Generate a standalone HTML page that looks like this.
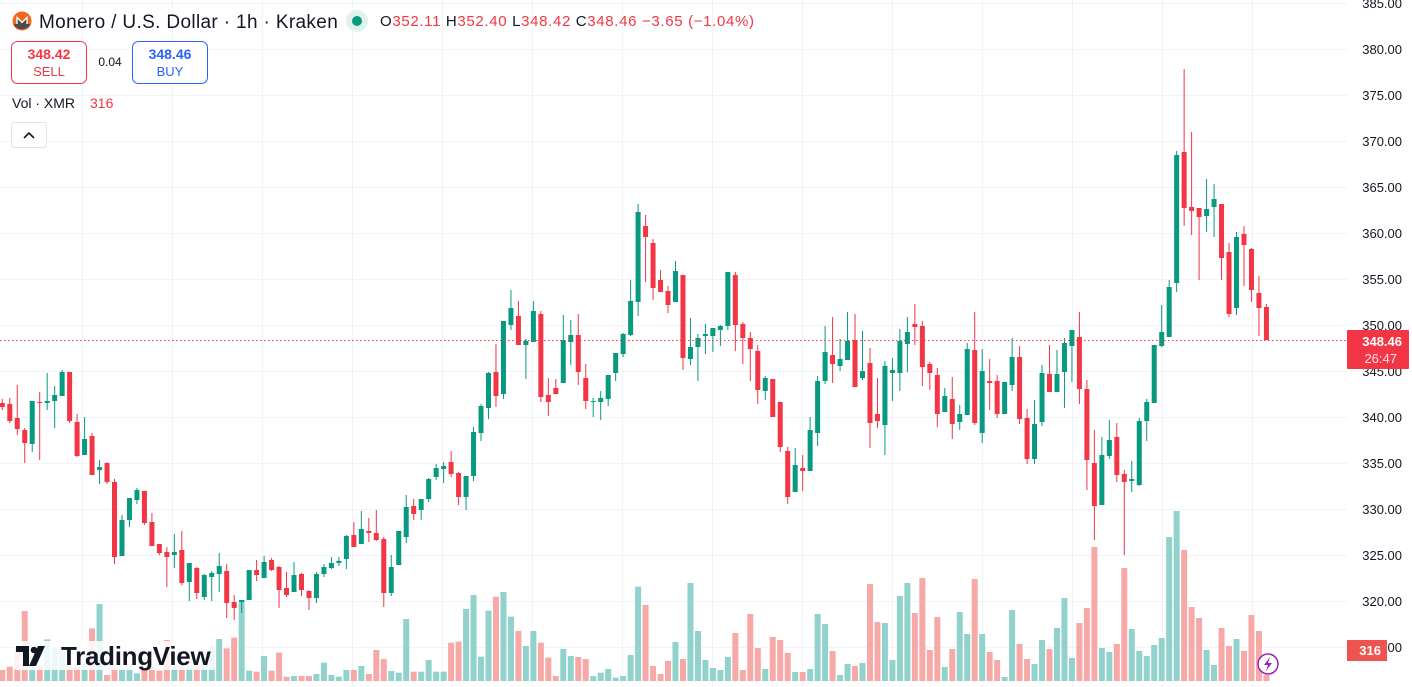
<!DOCTYPE html>
<html><head><meta charset="utf-8"><style>
html,body{margin:0;padding:0;background:#fff;width:1412px;height:687px;overflow:hidden}
svg{display:block;font-family:"Liberation Sans",Arial,sans-serif}
</style></head><body>
<svg id="c" width="1412" height="687" xmlns="http://www.w3.org/2000/svg">
<g id="grid" stroke="#f0f3fa" stroke-width="1"></g>
<g id="vol"></g>
<g id="cand"></g>
<line x1="0" y1="340.5" x2="1347" y2="340.5" stroke="#f23645" stroke-width="1" stroke-dasharray="1.5,2.5"/>
<g font-size="13" fill="#131722" text-anchor="end" id="axis">
<text x="1402" y="8">385.00</text><text x="1402" y="54">380.00</text><text x="1402" y="100">375.00</text><text x="1402" y="146">370.00</text><text x="1402" y="192">365.00</text><text x="1402" y="238">360.00</text><text x="1402" y="284">355.00</text><text x="1402" y="330">350.00</text><text x="1402" y="376">345.00</text><text x="1402" y="422">340.00</text><text x="1402" y="468">335.00</text><text x="1402" y="514">330.00</text><text x="1402" y="560">325.00</text><text x="1402" y="606">320.00</text><text x="1402" y="652">315.00</text>
</g>
<rect x="1347" y="330" width="62" height="39" fill="#f23645" rx="1"/>
<text x="1402" y="346" font-size="13" font-weight="bold" fill="#fff" text-anchor="end">348.46</text>
<text x="1397" y="363" font-size="13" fill="#fde" text-anchor="end">26:47</text>
<rect x="1347" y="640" width="40" height="21" fill="#ef5350"/>
<text x="1381" y="655" font-size="13" font-weight="bold" fill="#fff" text-anchor="end">316</text>
<!-- header -->
<circle cx="22" cy="21" r="9.5" fill="#f26822"/>
<path d="M13.5 24 L17 24 L17 17.5 L22 22.5 L27 17.5 L27 24 L30.5 24 A9.5 9.5 0 0 1 13.5 24Z" fill="#4c4c4c"/>
<path d="M17 24 L17 17.5 L22 22.5 L27 17.5 L27 24" fill="none" stroke="#fff" stroke-width="1.3"/>
<text x="39" y="28" font-size="19" fill="#131722" letter-spacing="0.35">Monero / U.S. Dollar · 1h · Kraken</text>
<circle cx="357" cy="21" r="11" fill="#dff2ee"/>
<circle cx="357" cy="21" r="5" fill="#089981"/>
<text x="380" y="26" font-size="15" fill="#131722" textLength="374">O<tspan fill="#f23645">352.11</tspan> H<tspan fill="#f23645">352.40</tspan> L<tspan fill="#f23645">348.42</tspan> C<tspan fill="#f23645">348.46 −3.65 (−1.04%)</tspan></text>
<rect x="11.5" y="41.5" width="75" height="42" rx="6" fill="#fff" stroke="#f23645"/>
<text x="49" y="59" font-size="14" font-weight="bold" fill="#f23645" text-anchor="middle">348.42</text>
<text x="49" y="76" font-size="13" fill="#f23645" text-anchor="middle">SELL</text>
<text x="110" y="66" font-size="12" fill="#131722" text-anchor="middle">0.04</text>
<rect x="132.5" y="41.5" width="75" height="42" rx="6" fill="#fff" stroke="#2962ff"/>
<text x="170" y="59" font-size="14" font-weight="bold" fill="#2962ff" text-anchor="middle">348.46</text>
<text x="170" y="76" font-size="13" fill="#2962ff" text-anchor="middle">BUY</text>
<text x="12" y="108" font-size="14" fill="#131722">Vol · XMR</text>
<text x="90" y="108" font-size="14" fill="#f23645">316</text>
<rect x="11.5" y="122.5" width="35" height="25" rx="3" fill="#fff" stroke="#e0e3eb"/>
<path d="M24 138 L29 133 L34 138" fill="none" stroke="#131722" stroke-width="1.6"/>
<!-- logo -->
<g>
<rect x="13" y="641" width="203" height="29" fill="#fff" opacity="0.85" rx="4"/>
<path d="M16 646 H29 V666 H23 V652 H16Z" fill="#131722"/>
<circle cx="34" cy="650" r="3.3" fill="#131722"/>
<path d="M38 646 H45 L36 666 H29Z" fill="#131722"/>
<text x="61" y="665" font-size="26" font-weight="bold" fill="#131722" letter-spacing="-0.3">TradingView</text>
</g>
<circle cx="1268" cy="664" r="10" fill="#fff" stroke="#9c27b0" stroke-width="1.5"/>
<path d="M1270 657 L1264 665 L1268 665 L1266 671 L1272 663 L1268 663Z" fill="#9c27b0"/>
</svg>
<script>
var NS="http://www.w3.org/2000/svg";
function el(p,t,a){var e=document.createElementNS(NS,t);for(var k in a)e.setAttribute(k,a[k]);p.appendChild(e);return e;}
var g=document.getElementById("grid");
for(var k=0;k<15;k++){var y=3+k*46+0.5;el(g,"line",{x1:0,y1:y,x2:1347,y2:y});}
for(var x=82;x<1300;x+=90){el(g,"line",{x1:x+0.5,y1:0,x2:x+0.5,y2:687});}
var D=[[403,407,399,410,0],[404,421,398,423,0],[418,429,385,435,0],[430,443,428,463,0],[401,444,401,452,1],[402,403,392,460,0],[401,403,373,410,1],[395,401,386,428,1],[372,396,370,396,1],[372,421,372,423,0],[422,456,414,457,0],[439,455,417,455,1],[436,475,433,475,0],[467,470,460,484,1],[463,482,462,484,0],[482,557,479,564,0],[520,556,515,556,1],[498,520,498,527,1],[490,500,488,504,1],[491,523,491,525,0],[522,546,513,546,0],[544,553,544,555,0],[552,557,547,587,0],[552,555,534,568,1],[550,583,531,585,0],[563,582,563,601,1],[568,593,567,599,0],[575,597,574,600,1],[573,577,571,601,1],[566,574,553,592,1],[571,603,564,618,0],[602,608,595,620,0],[600,602,600,613,1],[570,600,570,600,1],[570,575,560,581,0],[562,578,556,578,1],[560,570,558,571,0],[567,590,566,608,0],[588,595,572,597,0],[575,592,562,592,1],[574,590,573,596,0],[591,598,590,610,0],[574,598,572,603,1],[567,574,564,577,1],[563,568,557,569,1],[561,563,557,566,1],[536,559,535,569,1],[535,547,522,547,0],[529,544,511,544,1],[531,533,518,542,0],[533,540,510,541,0],[539,593,537,607,0],[567,593,555,596,1],[531,565,531,565,1],[507,537,495,543,1],[506,514,499,520,0],[499,510,499,520,1],[479,499,478,502,1],[468,477,464,480,1],[466,469,462,483,1],[462,474,451,477,0],[473,497,472,505,0],[476,497,476,510,1],[432,476,427,481,1],[406,433,404,441,1],[373,408,372,419,1],[372,396,344,407,0],[321,394,321,399,1],[308,325,290,330,1],[316,345,301,345,0],[341,345,339,379,1],[311,342,301,342,1],[314,397,311,402,0],[395,402,378,416,0],[388,394,379,394,0],[340,383,315,383,1],[335,342,320,365,1],[335,372,314,385,0],[378,401,364,409,0],[401,402,398,417,1],[398,402,391,420,1],[375,399,375,406,1],[353,373,353,381,1],[334,354,333,357,1],[301,335,280,336,1],[212,302,204,316,1],[226,237,215,282,0],[243,288,239,300,0],[280,292,270,292,0],[291,305,286,313,0],[271,302,261,302,1],[275,358,275,370,0],[347,359,318,365,1],[338,347,334,381,1],[334,336,324,354,1],[328,336,328,352,1],[326,330,325,346,1],[272,326,272,330,1],[275,325,272,351,0],[324,338,322,364,0],[338,349,332,381,0],[351,390,345,404,0],[378,391,376,400,1],[379,417,379,417,0],[402,447,402,452,0],[451,497,447,504,0],[465,492,448,492,1],[468,471,455,491,0],[430,471,417,471,1],[381,433,376,446,1],[352,381,326,384,1],[355,364,317,383,0],[359,366,339,371,1],[341,360,312,360,1],[340,387,314,387,0],[371,378,331,380,1],[363,423,348,448,0],[414,421,378,428,0],[366,425,361,455,1],[370,373,358,401,1],[341,373,329,391,1],[332,344,317,372,1],[324,327,304,345,0],[326,367,321,386,0],[364,373,362,390,0],[375,414,368,427,0],[396,412,388,412,1],[399,424,377,439,0],[414,422,405,430,1],[349,415,343,415,1],[350,423,312,425,0],[371,433,349,443,1],[381,383,359,410,0],[381,414,375,418,0],[382,414,382,414,1],[357,385,338,391,1],[357,419,346,424,0],[418,459,409,464,0],[424,459,400,464,1],[373,422,365,426,1],[374,392,345,392,0],[374,392,350,392,1],[343,372,338,408,1],[330,346,330,382,1],[337,389,312,404,0],[389,460,380,490,0],[463,506,430,540,0],[455,505,437,505,1],[440,456,420,459,1],[437,475,423,482,0],[474,482,470,555,0],[479,481,461,492,1],[421,485,418,486,1],[402,421,399,441,1],[345,403,345,403,1],[332,346,305,347,1],[287,337,280,337,1],[155,283,151,292,1],[152,208,69,226,0],[207,211,132,235,0],[208,217,208,280,0],[209,216,179,232,1],[199,207,184,237,1],[204,258,204,280,0],[252,314,243,317,0],[237,308,232,315,1],[234,245,226,286,0],[249,290,248,302,0],[293,308,276,336,0],[307,340,304,340,0]];
var VA=[270,260,200,93,258,258,178,205,215,258,258,258,145,72,285,258,268,262,280,270,258,272,180,258,258,258,258,215,198,177,205,173,60,272,275,228,272,218,290,288,288,288,282,248,285,290,270,270,258,282,210,237,273,278,117,275,275,240,275,275,188,185,87,45,230,92,50,36,110,153,198,153,188,233,288,207,228,231,237,288,278,267,293,288,225,20];
var VB=[605,666,674,661,642,659,583,631,660,668,670,657,633,670,614,648,669,637,640,653,672,672,669,614,624,651,675,664,666,663,584,622,623,660,596,583,613,578,650,617,667,649,612,634,579,634,652,660,677,610,644,659,664,640,649,628,598,658,623,608,547,648,652,644,568,629,651,656,645,638,537,511,550,607,618,650,665,628,646,639,651,615,631,675];
var V=VA.map(function(y){return 580+y/3;}).concat(VB);
var vg=document.getElementById("vol"),cg=document.getElementById("cand");
for(var i=0;i<D.length;i++){
 var cx=2.3+7.48*i,d=D[i],up=d[4]==1;
 var vy=V[i]||675;
 el(vg,"rect",{x:(cx-3).toFixed(2),y:vy,width:6,height:Math.max(1,681-vy),fill:up?"#92d2cc":"#f7a9a7"});
 var col=up?"#089981":"#f23645";
 el(cg,"rect",{x:(cx-0.5).toFixed(2),y:d[2],width:1,height:Math.max(1,d[3]-d[2]),fill:col});
 el(cg,"rect",{x:(cx-2.5).toFixed(2),y:d[0],width:5,height:Math.max(1,d[1]-d[0]),fill:col});
}
</script>
</body></html>
